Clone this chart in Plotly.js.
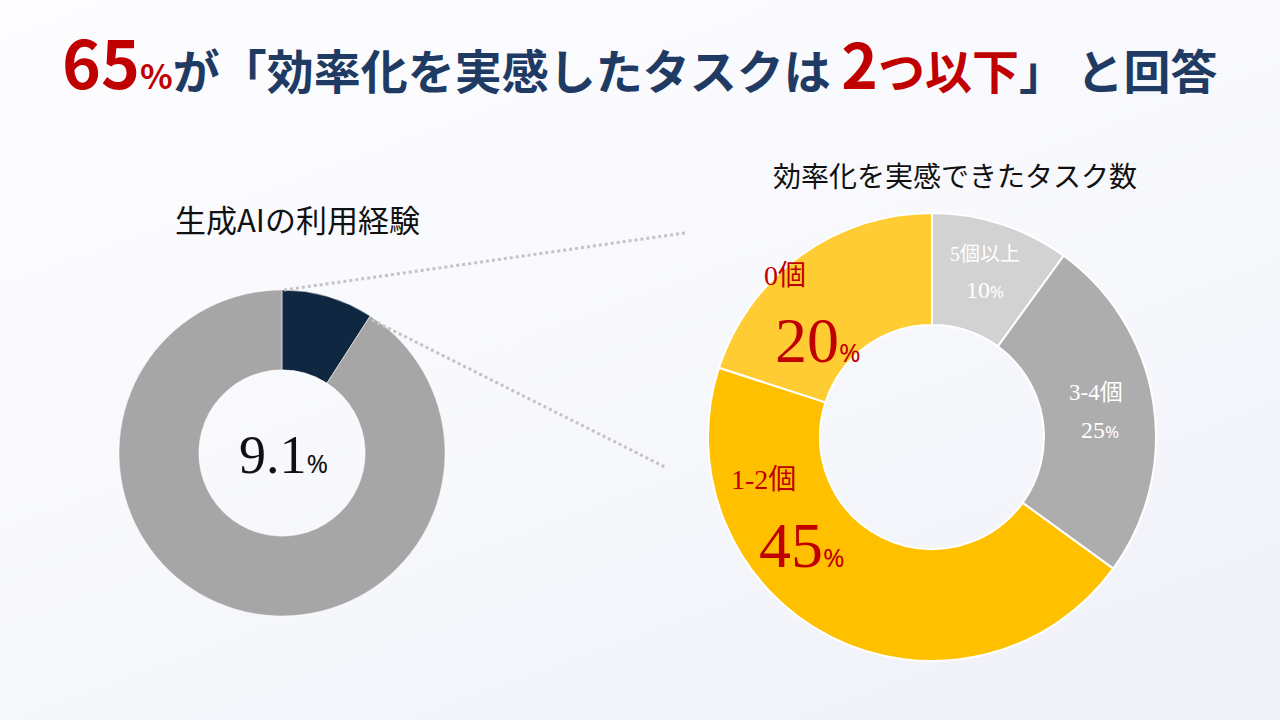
<!DOCTYPE html>
<html>
<head>
<meta charset="utf-8">
<script src="https://cdn.plot.ly/plotly-3.0.1.min.js"></script>
<style>
  html, body { margin: 0; padding: 0; }
  body { width: 1280px; height: 720px; background: linear-gradient(160deg, #fdfdff 0%, #f7f8fc 55%, #f0f1f9 100%); }
  #chart { width: 1280px; height: 720px; }
</style>
</head>
<body>
<div id="chart"></div>
<script>
// data
const useLabels = ['利用経験あり', 'なし'];
const useValues = [9.1, 90.9];

const taskLabels = ['5個以上', '3-4個', '1-2個', '0個'];
const taskValues = [10, 25, 45, 20];

const leftTitle = '生成AIの利用経験';
const rightTitle = '効率化を実感できたタスク数';

// helpers: pixel -> paper
const W = 1280, H = 720;
function px(x) { return x / W; }
function py(y) { return 1 - y / H; }

const serif = '"Liberation Serif", "Noto Serif CJK JP", serif';
const sans = '"Noto Sans CJK JP", "Noto Sans", sans-serif';
const red = '#c00000';
const navy = '#1f3b63';

var leftPie = {
    type: 'pie',
    labels: useLabels,
    values: useValues,
    sort: false,
    direction: 'clockwise',
    rotation: 0,
    hole: 0.51,
    textinfo: 'none',
    hoverinfo: 'skip',
    marker: { colors: ['#0f2740', '#a6a6a6'], line: { color: '#ffffff', width: 0.5 } },
    domain: { x: [px(282 - 163), px(282 + 163)], y: [py(453 + 163), py(453 - 163)] },
    showlegend: false
};

var rightPie = {
    type: 'pie',
    labels: taskLabels,
    values: taskValues,
    sort: false,
    direction: 'clockwise',
    rotation: 0,
    hole: 0.5,
    textinfo: 'none',
    hoverinfo: 'skip',
    marker: { colors: ['#d2d2d2', '#adadad', '#ffc000', '#ffcd33'], line: { color: '#ffffff', width: 2 } },
    domain: { x: [px(932 - 224), px(932 + 224)], y: [py(437 + 224), py(437 - 224)] },
    showlegend: false
};

// label styles for the right donut (same order as taskLabels)
const labStyle = [
    { c: '#ffffff', nx: 985, ny: 253, ns: 20, vx: 985, vy: 290, vs: 24, ps: 17 },
    { c: '#ffffff', nx: 1096, ny: 390, ns: 23, vx: 1100, vy: 430, vs: 24, ps: 17 },
    { c: red, nx: 763, ny: 477, ns: 28, vx: 802, vy: 545, vs: 64, ps: 26 },
    { c: red, nx: 785, ny: 273, ns: 28, vx: 818, vy: 340, vs: 64, ps: 26 }
];

function ann(x, y, text, size, color, family) {
    return {
        xref: 'paper', yref: 'paper', x: px(x), y: py(y),
        xanchor: 'center', yanchor: 'middle', showarrow: false,
        text: text, font: { size: size, color: color, family: family }
    };
}

var annotations = [];

// headline
annotations.push(ann(640, 60,
    '<span style="color:' + red + ';font-size:66px">65</span>' +
    '<span style="color:' + red + ';font-size:34px">%</span>' +
    '<span style="font-size:47px">が「効率化を実感したタスクは </span>' +
    '<span style="color:' + red + ';font-size:62px">2</span>' +
    '<span style="color:' + red + ';font-size:47px">つ以下</span>' +
    '<span style="font-size:47px">」 と回答</span>',
    47, navy, sans));
annotations[0].font.weight = 'bold';

annotations.push(ann(297, 218, leftTitle, 31, '#111111', sans));
annotations.push(ann(955, 175, rightTitle, 28, '#111111', sans));

// center value of left donut
annotations.push(ann(283, 455,
    useValues[0] + '<span style="font-size:26px;font-family:Noto Sans">%</span>',
    54, '#111111', serif));

for (let i = 0; i < taskLabels.length; i++) {
    const s = labStyle[i];
    annotations.push(ann(s.nx, s.ny, taskLabels[i].replace('個', '<span style="font-family:Noto Sans CJK JP">個</span>').replace('以上', '<span style="font-family:Noto Sans CJK JP">以上</span>'), s.ns, s.c, serif));
    annotations.push(ann(s.vx, s.vy,
        taskValues[i] + '<span style="font-size:' + s.ps + 'px;font-family:Noto Sans">%</span>',
        s.vs, s.c, serif));
}

var layout = {
    width: W,
    height: H,
    margin: { l: 0, r: 0, t: 0, b: 0 },
    paper_bgcolor: 'rgba(0,0,0,0)',
    plot_bgcolor: 'rgba(0,0,0,0)',
    annotations: annotations,
    shapes: [
        { type: 'line', xref: 'paper', yref: 'paper', x0: px(284), y0: py(290), x1: px(685), y1: py(233),
          line: { color: '#c4c4c4', width: 3, dash: 'dot' } },
        { type: 'line', xref: 'paper', yref: 'paper', x0: px(372), y0: py(320), x1: px(667), y1: py(468),
          line: { color: '#c4c4c4', width: 3, dash: 'dot' } }
    ]
};

Plotly.newPlot('chart', [leftPie, rightPie], layout, { displayModeBar: false, staticPlot: true });
</script>
</body>
</html>
